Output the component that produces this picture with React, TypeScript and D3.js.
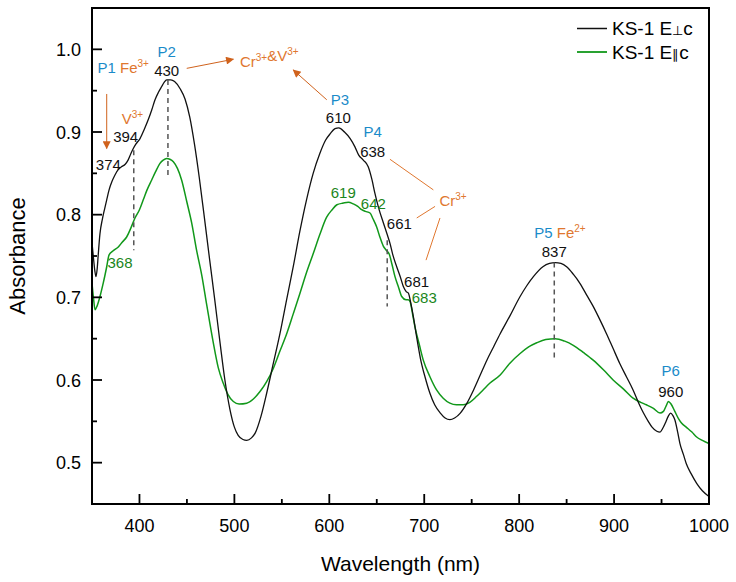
import React from "react";
import * as d3 from "d3";

// ---------- data ----------
const perpWl = [350, 351.5, 353, 354.2, 355.5, 356.6, 358.4, 361, 363.5, 365.5, 368, 371, 374.2, 378, 381, 385, 388, 391, 393.5, 396, 400.6, 405, 409.3, 413, 416.4, 420, 423.4, 426, 428.7, 433, 437, 443, 448, 453, 458, 463, 468, 474, 479, 485, 490, 495.4, 500, 504, 509, 513, 518, 522, 528, 534, 541, 548, 555, 562, 569, 576, 583, 590, 596, 601, 606, 610, 616, 622, 627, 631, 635.8, 641, 645, 648, 652, 657, 661, 664, 667, 671, 675, 678, 681, 683.3, 686, 688.5, 692, 696, 701, 706, 711, 717, 722, 727, 732, 738, 745, 752, 759, 766, 773, 780, 790, 801, 808, 815, 825, 832, 838, 844, 850, 857, 864, 871, 878, 885, 892, 899, 906, 913, 920, 926, 931, 936, 940, 945, 948.4, 951, 954, 957, 959.6, 962, 964, 967, 969.4, 973, 976, 981, 987, 993, 1000];
const perpAbs = [0.766, 0.748, 0.732, 0.725, 0.735, 0.752, 0.777, 0.795, 0.808, 0.818, 0.83, 0.84, 0.848, 0.855, 0.858, 0.861, 0.866, 0.874, 0.88, 0.885, 0.892, 0.903, 0.915, 0.927, 0.939, 0.948, 0.955, 0.96, 0.963, 0.963, 0.961, 0.952, 0.94, 0.918, 0.885, 0.845, 0.8, 0.745, 0.7, 0.644, 0.6, 0.564, 0.543, 0.533, 0.528, 0.527, 0.53, 0.536, 0.556, 0.584, 0.62, 0.656, 0.697, 0.737, 0.78, 0.818, 0.85, 0.874, 0.89, 0.898, 0.904, 0.905, 0.9, 0.892, 0.882, 0.872, 0.866, 0.858, 0.842, 0.826, 0.808, 0.79, 0.776, 0.765, 0.751, 0.737, 0.724, 0.713, 0.707, 0.705, 0.692, 0.677, 0.652, 0.626, 0.603, 0.584, 0.57, 0.56, 0.554, 0.552, 0.554, 0.56, 0.572, 0.588, 0.606, 0.624, 0.64, 0.656, 0.677, 0.701, 0.714, 0.725, 0.737, 0.741, 0.742, 0.741, 0.737, 0.728, 0.717, 0.703, 0.689, 0.673, 0.656, 0.638, 0.62, 0.604, 0.588, 0.572, 0.56, 0.55, 0.543, 0.538, 0.537, 0.541, 0.548, 0.556, 0.56, 0.557, 0.552, 0.537, 0.523, 0.51, 0.499, 0.487, 0.475, 0.466, 0.459];

const paraWl = [350, 351.5, 353.2, 355.5, 358.4, 362, 365.5, 367.9, 372, 377.7, 382, 386.5, 391, 395.3, 400, 404, 408, 412.9, 417, 421.6, 425, 428.7, 432, 435.7, 440, 444.4, 450, 455, 460, 465.6, 471, 477.8, 483, 488.3, 493, 498.9, 505, 513, 520, 527, 534, 541, 548, 555.1, 562, 569.1, 576, 583.1, 590, 597.2, 603, 608, 614.7, 620, 625.3, 630, 634.1, 638, 642.9, 646, 649.9, 653, 656.9, 660, 663.2, 666, 669.2, 673, 676.3, 680.8, 683, 685, 688, 690.3, 695, 699, 706, 713, 720, 727, 734, 741, 748, 755, 762, 769, 780, 790, 801, 810, 818.5, 828, 838, 848, 857, 868, 878, 889, 899, 910, 920, 928, 934, 941, 948.4, 952, 955, 957.2, 960, 964, 968, 971, 976, 982, 987, 993, 1000];
const paraAbs = [0.717, 0.7, 0.685, 0.69, 0.701, 0.718, 0.737, 0.751, 0.756, 0.761, 0.767, 0.773, 0.784, 0.796, 0.806, 0.818, 0.83, 0.842, 0.852, 0.862, 0.866, 0.868, 0.867, 0.864, 0.856, 0.842, 0.815, 0.79, 0.758, 0.727, 0.69, 0.645, 0.615, 0.596, 0.583, 0.574, 0.571, 0.572, 0.577, 0.586, 0.598, 0.614, 0.635, 0.656, 0.68, 0.705, 0.73, 0.753, 0.776, 0.797, 0.806, 0.812, 0.814, 0.815, 0.813, 0.81, 0.806, 0.804, 0.802, 0.795, 0.785, 0.774, 0.762, 0.757, 0.752, 0.74, 0.725, 0.712, 0.701, 0.697, 0.697, 0.695, 0.678, 0.664, 0.642, 0.624, 0.604, 0.588, 0.578, 0.572, 0.57, 0.57, 0.573, 0.58, 0.588, 0.596, 0.606, 0.62, 0.632, 0.64, 0.645, 0.649, 0.65, 0.647, 0.642, 0.633, 0.624, 0.612, 0.6, 0.589, 0.578, 0.573, 0.57, 0.566, 0.56, 0.562, 0.569, 0.574, 0.571, 0.562, 0.553, 0.548, 0.543, 0.537, 0.531, 0.527, 0.523];

const xMajorTicks = [400, 500, 600, 700, 800, 900, 1000];
const xMinorTicks = [450, 550, 650, 750, 850, 950];
const yMajorTicks = [0.5, 0.6, 0.7, 0.8, 0.9, 1.0];
const yMinorTicks = [0.55, 0.65, 0.75, 0.85, 0.95];

type Lab = { t: string; x: number; y: number; c: "blue" | "black" | "green" };
const peakLabels: Lab[] = [
  { t: "P1", x: 365.5, y: 0.971, c: "blue" },
  { t: "P2", x: 428.7, y: 0.991, c: "blue" },
  { t: "430", x: 428.7, y: 0.968, c: "black" },
  { t: "P3", x: 611.3, y: 0.933, c: "blue" },
  { t: "610", x: 609.5, y: 0.911, c: "black" },
  { t: "394", x: 385.5, y: 0.888, c: "black" },
  { t: "374", x: 367.2, y: 0.854, c: "black" },
  { t: "368", x: 379.5, y: 0.735, c: "green" },
  { t: "P4", x: 645.7, y: 0.894, c: "blue" },
  { t: "638", x: 645.7, y: 0.87, c: "black" },
  { t: "619", x: 614.7, y: 0.82, c: "green" },
  { t: "642", x: 646.4, y: 0.807, c: "green" },
  { t: "661", x: 673.8, y: 0.783, c: "black" },
  { t: "681", x: 692, y: 0.712, c: "black" },
  { t: "683", x: 700, y: 0.693, c: "green" },
  { t: "P5", x: 825.5, y: 0.772, c: "blue" },
  { t: "837", x: 837, y: 0.749, c: "black" },
  { t: "P6", x: 959.7, y: 0.605, c: "blue" },
  { t: "960", x: 959.7, y: 0.579, c: "black" },
];

const ionLabels = [
  { parts: [["Fe", "3+"]], x: 379.5, y: 0.971 },
  { parts: [["Cr", "3+"], ["&V", "3+"]], x: 505.9, y: 0.979 },
  { parts: [["V", "3+"]], x: 381.3, y: 0.91 },
  { parts: [["Cr", "3+"]], x: 716, y: 0.81 },
  { parts: [["Fe", "2+"]], x: 839.6, y: 0.772 },
];

const arrows = [
  [365.5, 0.946, 365.5, 0.88],
  [449.8, 0.977, 498.9, 0.988],
  [597.3, 0.939, 562.1, 0.975],
];
const leaderLines = [
  [709.6, 0.83, 663.9, 0.867],
  [711.4, 0.81, 692.1, 0.796],
  [716.6, 0.796, 701.9, 0.745],
];
const dashedLines = [
  [394, 0.878, 0.757],
  [430, 0.963, 0.844],
  [661, 0.769, 0.689],
  [837, 0.742, 0.624],
];

const W = 736, H = 582;
const M = { left: 92, top: 8, right: 27, bottom: 78 };
const FONT = "Arial, 'Liberation Sans', Helvetica, sans-serif";
const BLUE = "#1a8bc9";
const ORANGE = "#e0772f";
const ARROW = "#d0621c";
const GREEN = "#11981a";
const GREEN_T = "#1b861b";

export default function App() {
  const x = d3.scaleLinear().domain([350, 1000]).range([M.left, W - M.right]);
  const y = d3.scaleLinear().domain([0.45, 1.05]).range([H - M.bottom, M.top]);
  const line = d3
    .line<[number, number]>()
    .x((d) => x(d[0]))
    .y((d) => y(d[1]))
    .curve(d3.curveMonotoneX);
  const perp = line(perpWl.map((w, i) => [w, perpAbs[i]]) as [number, number][]) || "";
  const para = line(paraWl.map((w, i) => [w, paraAbs[i]]) as [number, number][]) || "";
  const x0 = x(350), x1 = x(1000), y0 = y(0.45), y1 = y(1.05);
  const colorOf = (c: string) => (c === "blue" ? BLUE : c === "green" ? GREEN_T : "#111");

  return (
    <svg width={W} height={H} style={{ position: "absolute", left: 0, top: 0, background: "#fff" }} fontFamily={FONT}>
      <defs>
        <marker id="ah" viewBox="0 0 10 10" refX="9" refY="5" markerWidth="10" markerHeight="8" markerUnits="userSpaceOnUse" orient="auto">
          <path d="M0,0 L10,5 L0,10 z" fill={ARROW} />
        </marker>
        <clipPath id="clip">
          <rect x={x0} y={y1} width={x1 - x0} height={y0 - y1} />
        </clipPath>
      </defs>

      <g clipPath="url(#clip)">
        <path d={para} fill="none" stroke={GREEN} strokeWidth={1.5} />
        <path d={perp} fill="none" stroke="#111" strokeWidth={1.3} />
      </g>

      {dashedLines.map((d, i) => (
        <line key={"dl" + i} x1={x(d[0])} x2={x(d[0])} y1={y(d[1])} y2={y(d[2])} stroke="#555" strokeWidth={1.5} strokeDasharray="5,4" />
      ))}

      {arrows.map((a, i) => (
        <line key={"ar" + i} x1={x(a[0])} y1={y(a[1])} x2={x(a[2])} y2={y(a[3])} stroke={ARROW} strokeWidth={1} markerEnd="url(#ah)" />
      ))}
      {leaderLines.map((a, i) => (
        <line key={"ll" + i} x1={x(a[0])} y1={y(a[1])} x2={x(a[2])} y2={y(a[3])} stroke={ORANGE} strokeWidth={1} />
      ))}

      {peakLabels.map((l, i) => (
        <text key={"pl" + i} x={x(l.x)} y={y(l.y)} fontSize={15} textAnchor="middle" fill={colorOf(l.c)}>
          {l.t}
        </text>
      ))}
      {ionLabels.map((l, i) => (
        <text key={"il" + i} x={x(l.x)} y={y(l.y)} fontSize={15} fill={ORANGE}>
          {l.parts.map((p, j) => (
            <React.Fragment key={j}>
              <tspan>{p[0]}</tspan>
              <tspan fontSize={10} dy={-6}>{p[1]}</tspan>
              <tspan dy={6}>{""}</tspan>
            </React.Fragment>
          ))}
        </text>
      ))}

      <rect x={x0} y={y1} width={x1 - x0} height={y0 - y1} fill="none" stroke="#000" strokeWidth={2} />

      {xMajorTicks.map((t) => (
        <g key={"xt" + t}>
          <line x1={x(t)} x2={x(t)} y1={y0} y2={y0 - 10} stroke="#000" strokeWidth={1.8} />
          <text x={x(t)} y={y0 + 28} fontSize={18} textAnchor="middle">{t}</text>
        </g>
      ))}
      {xMinorTicks.map((t) => (
        <line key={"xm" + t} x1={x(t)} x2={x(t)} y1={y0} y2={y0 - 5} stroke="#000" strokeWidth={1.8} />
      ))}
      {yMajorTicks.map((t) => (
        <g key={"yt" + t}>
          <line x1={x0} x2={x0 + 10} y1={y(t)} y2={y(t)} stroke="#000" strokeWidth={1.8} />
          <text x={x0 - 11} y={y(t) + 6.5} fontSize={18} textAnchor="end">{d3.format(".1f")(t)}</text>
        </g>
      ))}
      {yMinorTicks.map((t) => (
        <line key={"ym" + t} x1={x0} x2={x0 + 5} y1={y(t)} y2={y(t)} stroke="#000" strokeWidth={1.8} />
      ))}

      <text x={(x0 + x1) / 2} y={571} fontSize={21} textAnchor="middle">Wavelength (nm)</text>
      <text transform={`translate(25,${(y0 + y1) / 2}) rotate(-90)`} fontSize={22} textAnchor="middle">Absorbance</text>

      <g>
        <line x1={577} x2={607} y1={28.5} y2={28.5} stroke="#111" strokeWidth={1.5} />
        <text x={612} y={35} fontSize={19}>
          KS-1 E<tspan fontSize={13}>⊥</tspan>c
        </text>
        <line x1={577} x2={607} y1={52} y2={52} stroke={GREEN} strokeWidth={1.8} />
        <text x={612} y={58.5} fontSize={19}>
          KS-1 E<tspan fontSize={13}>∥</tspan>c
        </text>
      </g>
    </svg>
  );
}
